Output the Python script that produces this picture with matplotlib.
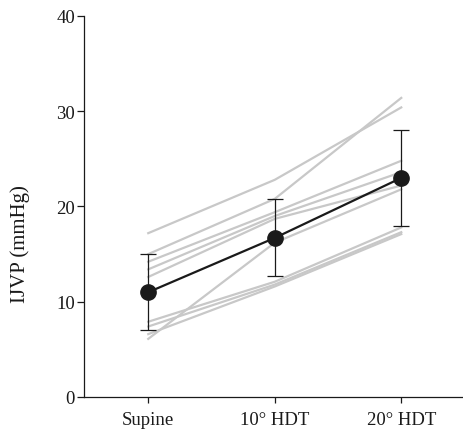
import numpy as np
import matplotlib
matplotlib.use('Agg')
import matplotlib.pyplot as plt

plt.rcParams['font.family'] = ['Liberation Serif', 'DejaVu Serif']

conditions = ['Supine', '10° HDT', '20° HDT']

# individual subjects (IJVP, mmHg) at Supine / 10° HDT / 20° HDT
supine = [17.2, 6.1, 15.0, 14.2, 13.4, 12.6, 7.9, 7.4, 6.6]
hdt10 = [22.8, 16.2, 20.8, 19.4, 19.0, 18.7, 12.1, 11.8, 11.6]
hdt20 = [30.4, 21.8, 31.4, 24.8, 23.6, 22.2, 17.8, 17.3, 17.1]

# group mean and SD
mean_vals = [11.0, 16.7, 23.0]
sd_vals = [4.0, 4.05, 5.0]

x = np.arange(len(conditions))

fig = plt.figure(figsize=(4.63, 4.31), dpi=100)
ax = fig.add_axes([0.1814, 0.0766, 0.8164, 0.884])

for a, b, c in zip(supine, hdt10, hdt20):
    ax.plot(x, [a, b, c], color='#c8c8c8', linewidth=1.6, zorder=1)

ax.plot(x, mean_vals, color='#1a1a1a', linewidth=1.6, zorder=3)
ax.errorbar(x, mean_vals, yerr=sd_vals, fmt='none', ecolor='#1a1a1a',
            elinewidth=0.9, capsize=5.5, capthick=0.9, zorder=4)
ax.plot(x, mean_vals, 'o', color='#1a1a1a', markersize=11, zorder=5)

ax.set_xlim(-0.508, 2.48)
ax.set_ylim(0, 40)
ax.set_yticks([0, 10, 20, 30, 40])
ax.set_xticks(x)
ax.set_xticklabels(conditions)

for s in ['top', 'right']:
    ax.spines[s].set_visible(False)
for s in ['left', 'bottom']:
    ax.spines[s].set_linewidth(0.9)
    ax.spines[s].set_color('#1a1a1a')

ax.tick_params(axis='y', length=5, width=0.9, pad=1.5, labelsize=13.5, colors='#1a1a1a')
ax.tick_params(axis='x', length=4, width=0.9, pad=6, labelsize=13.5, colors='#1a1a1a')

fig.text(20 / 463, 1 - 244 / 431, 'IJVP (mmHg)', rotation=90,
         ha='center', va='center', fontsize=15, color='#1a1a1a')

fig.savefig('out.png', dpi=100)
